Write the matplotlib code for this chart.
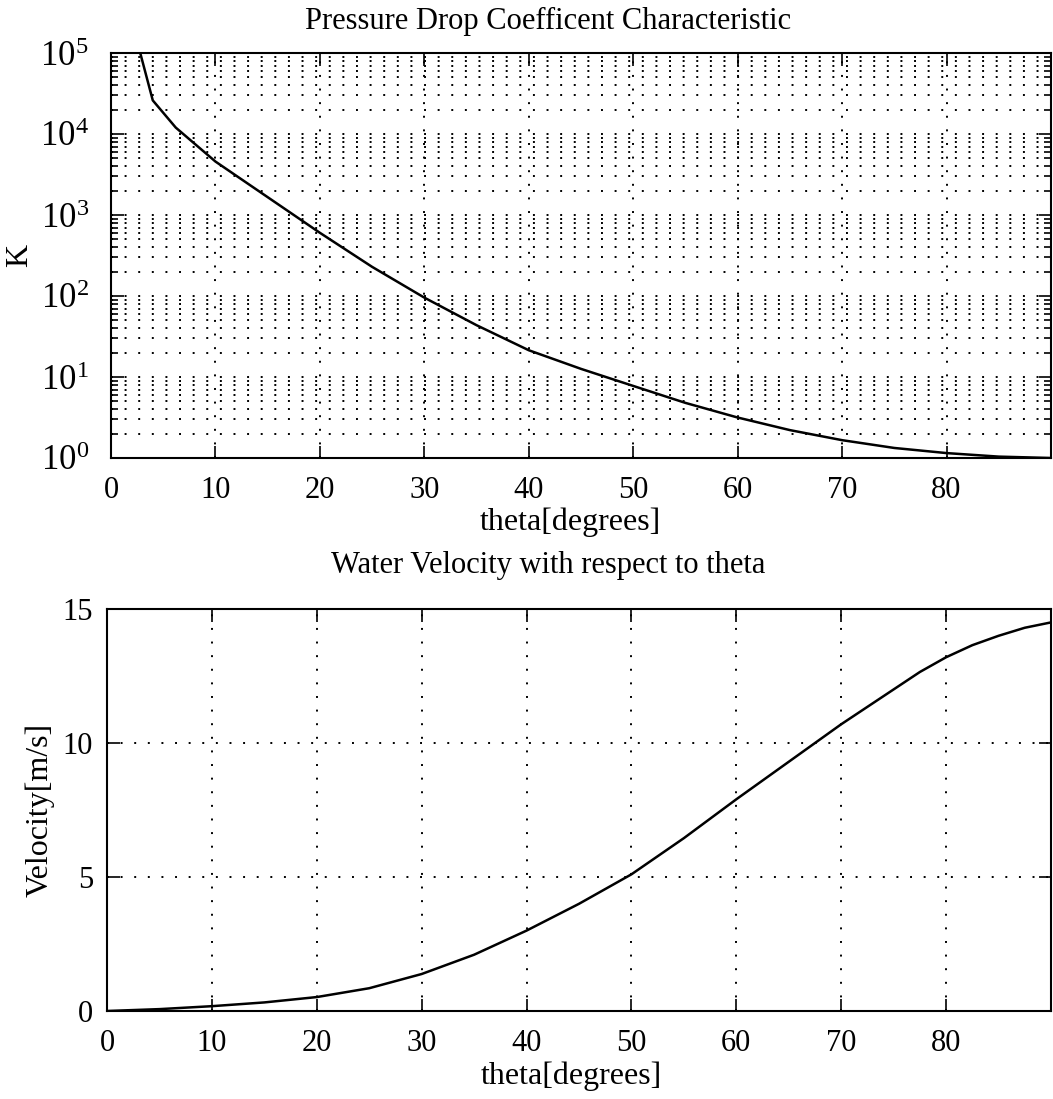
import matplotlib
matplotlib.use("Agg")
import matplotlib.pyplot as plt
from matplotlib.ticker import LogLocator, NullFormatter


# Data

THETA_K = [2.5, 4.0, 6.2, 10, 15, 20, 25, 30, 35, 40, 45, 50, 55, 60, 65, 70, 75, 80, 85, 90]
K_VALUES = [1.4e5, 2.6e4, 1.2e4, 4570, 1660, 603, 229, 95.5, 43.6, 21.4, 12.6, 7.76,
            4.79, 3.16, 2.21, 1.66, 1.33, 1.15, 1.04, 1.0]

THETA_V = [0, 5, 10, 15, 20, 25, 30, 35, 40, 45, 50, 55, 60, 65, 70, 72.5, 75, 77.5,
           80, 82.5, 85, 87.5, 90]
VELOCITY = [0, 0.07, 0.18, 0.32, 0.52, 0.85, 1.38, 2.1, 3.0, 4.0, 5.1, 6.45, 7.9,
            9.3, 10.7, 11.35, 12.0, 12.65, 13.2, 13.65, 14.0, 14.3, 14.5]

X_TICKS = [0, 10, 20, 30, 40, 50, 60, 70, 80]
V_TICKS = [0, 5, 10, 15]


# Style

plt.rcParams['font.family'] = ['Liberation Serif', 'DejaVu Serif']
plt.rcParams['mathtext.fontset'] = 'custom'
plt.rcParams['mathtext.rm'] = 'Liberation Serif'
plt.rcParams['mathtext.it'] = 'Liberation Serif:italic'
plt.rcParams['font.size'] = 22
plt.rcParams['axes.linewidth'] = 1.5

GRID = dict(color='black', linestyle=(0, (1, 6)), linewidth=1.4)
W, H = 1053, 1099

fig = plt.figure(figsize=(W / 100, H / 100), dpi=100)

# Pressure drop coefficient (log)

ax1 = fig.add_axes([111 / W, 1 - 458 / H, 940 / W, 405 / H])
ax1.semilogy(THETA_K, K_VALUES, color='black', linewidth=1.8)
ax1.set_xlim(0, 90)
ax1.set_ylim(1, 1e5)
ax1.set_xticks(X_TICKS)
ax1.yaxis.set_major_locator(LogLocator(base=10, numticks=10))
ax1.yaxis.set_minor_locator(LogLocator(base=10, subs=range(2, 10), numticks=50))
ax1.yaxis.set_minor_formatter(NullFormatter())
ax1.grid(True, which='major', **GRID)
ax1.grid(True, which='minor', axis='y', **GRID)
ax1.tick_params(which='both', direction='in', top=True, right=True, width=1.2)
ax1.tick_params(which='major', length=9)
ax1.tick_params(which='minor', length=5)
ax1.tick_params(axis='x', pad=13)
ax1.tick_params(axis='y', pad=16, labelsize=25)
ax1.set_title('Pressure Drop Coefficent Characteristic', fontsize=22, pad=17, x=0.465)
ax1.set_xlabel('theta[degrees]', fontsize=23)
ax1.xaxis.set_label_coords(0.489, -0.122)
ax1.set_ylabel('K', fontsize=23, labelpad=4)

# Water velocity

ax2 = fig.add_axes([107 / W, 1 - 1011 / H, 944 / W, 402 / H])
ax2.plot(THETA_V, VELOCITY, color='black', linewidth=1.8)
ax2.set_xlim(0, 90)
ax2.set_ylim(0, 15)
ax2.set_xticks(X_TICKS)
ax2.set_yticks(V_TICKS)
ax2.grid(True, **GRID)
ax2.tick_params(direction='in', top=True, right=True, length=9, width=1.2, pad=10)
ax2.tick_params(axis='x', pad=13)
ax2.set_title('Water Velocity with respect to theta', fontsize=22, pad=26, x=0.467)
ax2.set_xlabel('theta[degrees]', fontsize=23)
ax2.xaxis.set_label_coords(0.4915, -0.125)
ax2.set_ylabel('Velocity[m/s]', fontsize=23, labelpad=6)

fig.savefig('out.png', dpi=100)
